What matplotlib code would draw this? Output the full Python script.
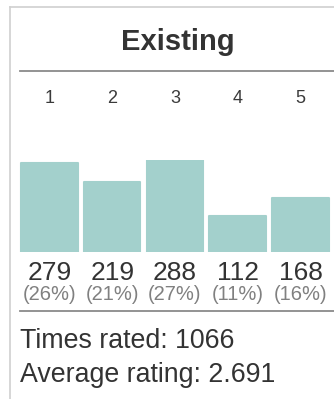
import matplotlib.pyplot as plt
from matplotlib.lines import Line2D
from matplotlib.transforms import blended_transform_factory

plt.rcParams['font.family'] = ['Liberation Sans', 'DejaVu Sans']

ratings = ['1', '2', '3', '4', '5']
counts = [279, 219, 288, 112, 168]
percents = [26, 21, 27, 11, 16]
times_rated = 1066
avg_rating = 2.691
title = 'Existing'

W, H = 334, 399
bar_color = '#a3d0cc'
text_color = '#333333'

fig = plt.figure(figsize=(W / 100, H / 100), dpi=100)

def fy(py):
    # pixel row from top -> figure fraction
    return 1 - py / H

def fx(px):
    return px / W

# panel border and separators
fig.add_artist(Line2D([fx(9.5), fx(9.5)], [fy(7), 0], color='#d0d0d0', lw=1.2))
fig.add_artist(Line2D([fx(9.5), 1], [fy(7), fy(7)], color='#d0d0d0', lw=1.2))
fig.add_artist(Line2D([fx(20), 1], [fy(70.5), fy(70.5)], color='#8a8a8a', lw=1.3))
fig.add_artist(Line2D([fx(20), 1], [fy(310.5), fy(310.5)], color='#8a8a8a', lw=1.3))

fig.text(fx(177.5), fy(50), title, ha='center', va='baseline',
         fontsize=21, fontweight='bold', color=text_color)

ax = fig.add_axes([fx(18.1), fy(252), fx(313.75), 92 / H])
x = range(len(counts))
ax.bar(x, counts, width=0.9, color=bar_color, edgecolor=bar_color,
       linewidth=1.5, joinstyle='round')
ax.set_xlim(-0.5, len(counts) - 0.5)
ax.set_ylim(0, max(counts))
ax.axis('off')

# x in data units, y in figure fraction
tr = blended_transform_factory(ax.transData, fig.transFigure)
for i, (r, c, p) in enumerate(zip(ratings, counts, percents)):
    ax.text(i, fy(103), r, transform=tr, ha='center', va='baseline',
            fontsize=13, color='#3a3a3a')
    ax.text(i, fy(280), str(c), transform=tr, ha='center', va='baseline',
            fontsize=19, color=text_color)
    ax.text(i, fy(300), '(%d%%)' % p, transform=tr, ha='center', va='baseline',
            fontsize=14.5, color='#808080')

fig.text(fx(20), fy(348), 'Times rated: %d' % times_rated, ha='left', va='baseline',
         fontsize=19.3, color=text_color)
fig.text(fx(20), fy(382), 'Average rating: %.3f' % avg_rating, ha='left', va='baseline',
         fontsize=19.3, color=text_color)

fig.savefig('out.png', dpi=100)
